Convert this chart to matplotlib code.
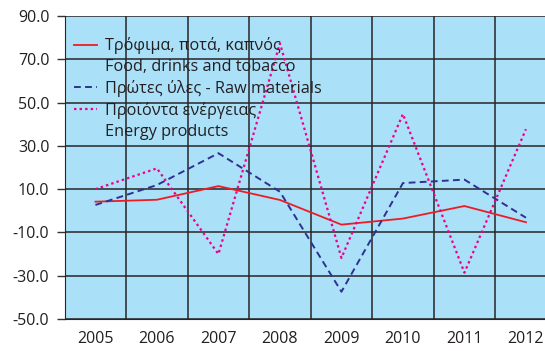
import matplotlib
matplotlib.use("Agg")
import matplotlib.pyplot as plt
from matplotlib.lines import Line2D

# annual % change by product group
years = ["2005", "2006", "2007", "2008", "2009", "2010", "2011", "2012"]
food = [4.2, 5.1, 11.4, 5.0, -6.4, -3.6, 2.2, -5.3]
raw = [2.7, 11.9, 26.6, 8.8, -37.4, 12.8, 14.4, -3.2]
energy = [10.0, 19.6, -20.0, 77.4, -21.8, 44.7, -28.6, 37.7]

yticks = [90, 70, 50, 30, 10, -10, -30, -50]

plt.rcParams['font.family'] = ['Open Sans', 'DejaVu Sans']

fig = plt.figure(figsize=(5.45, 3.51), dpi=100)
ax = fig.add_axes([0.1187, 0.0912, 0.8813, 0.8632])
ax.set_facecolor('#abe0f9')

x = list(range(len(years)))
ax.plot(x, food, color='#ed1c24', lw=1.3, zorder=3)
ax.plot(x, raw, color='#2e3192', lw=1.4, linestyle=(0, (3.5, 2.2)), zorder=3)
ax.plot(x, energy, color='#ec008c', lw=1.6, linestyle=(0, (1.1, 1.4)), zorder=3)

ax.set_ylim(-50, 90)
ax.set_yticks(yticks)
ax.set_yticklabels([f"{v:.1f}" for v in yticks], fontsize=11.5, color='#231f20')
ax.set_xlim(-0.5, 7.31)
ax.set_xticks(x)
ax.set_xticklabels(years, fontsize=11.5, color='#231f20')
ax.tick_params(axis='x', length=0, pad=9)
ax.tick_params(axis='y', length=6, width=1, color='#333333', pad=5)

# grid: horizontal at each tick, vertical between categories
for v in yticks:
    ax.axhline(v, color='#262626', lw=1.1, zorder=1)
for b in [i + 0.5 for i in range(len(years) - 1)]:
    ax.axvline(b, color='#262626', lw=1.1, zorder=1)

for side in ['top', 'right']:
    ax.spines[side].set_visible(False)
ax.spines['left'].set_color('#262626')
ax.spines['bottom'].set_color('#262626')

blank = Line2D([], [], color='none')
handles = [
    Line2D([], [], color='#ed1c24', lw=1.3),
    blank,
    Line2D([], [], color='#2e3192', lw=1.4, linestyle=(0, (3.5, 2.2))),
    Line2D([], [], color='#ec008c', lw=1.6, linestyle=(0, (1.1, 1.4))),
    blank,
]
labels = [
    "Τρόφιμα, ποτά, καπνός",
    "Food, drinks and tobacco",
    "Πρώτες ύλες - Raw materials",
    "Προϊόντα ενέργειας",
    "Energy products",
]
leg = ax.legend(handles, labels, loc='upper left', frameon=False,
                fontsize=11.7, labelspacing=0.3, handlelength=1.4,
                handletextpad=0.5, borderaxespad=0.2,
                bbox_to_anchor=(0.0, 0.962))
for t in leg.get_texts():
    t.set_color('#231f20')

fig.savefig("out.png", dpi=100)
